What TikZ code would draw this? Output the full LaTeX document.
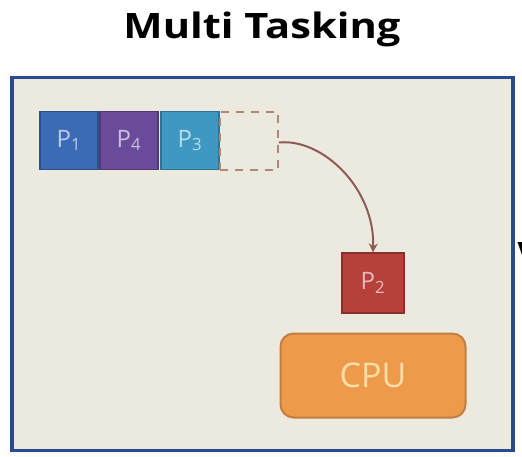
\documentclass[tikz,border=0pt]{standalone}
\usepackage{fontspec}
\setmainfont{Open Sans}
\usetikzlibrary{arrows.meta}
\definecolor{framebg}{HTML}{ECE9DF}
\definecolor{frameline}{HTML}{2A4A8E}
\definecolor{pone}{HTML}{3B6BB6}
\definecolor{pfour}{HTML}{6A4B9B}
\definecolor{pthree}{HTML}{3E98C1}
\definecolor{ptwo}{HTML}{B5413A}
\definecolor{cpufill}{HTML}{EE9A4B}
\definecolor{cpuline}{HTML}{C27E42}
\definecolor{cputext}{HTML}{F8DDA6}
\definecolor{slotline}{HTML}{B08676}
\definecolor{arrowcol}{HTML}{8C5C56}
\tikzset{
  pbox/.style={draw=#1!75!black, fill=#1, line width=1.2pt, minimum width=58pt,
    minimum height=58pt, inner sep=0pt, text=#1!35!white, font=\fontsize{24}{26}\selectfont},
  slotbox/.style={draw=slotline, dashed, dash pattern=on 8pt off 7pt, line width=2pt,
    minimum width=58pt, minimum height=58pt, inner sep=0pt},
  cpubox/.style={draw=cpuline, fill=cpufill, line width=2pt, rounded corners=13pt,
    minimum width=185pt, minimum height=84pt, inner sep=0pt, text=cputext,
    font=\fontsize{34}{36}\selectfont},
  flow/.style={draw=arrowcol, line width=2pt, -{Stealth[length=9pt,width=9pt]}},
}
\begin{document}
\begin{tikzpicture}[x=1pt,y=-1pt]
\useasboundingbox (0,0) rectangle (522,456);
\fill[white] (0,0) rectangle (522,456);
\node[font=\bfseries\fontsize{35}{40}\selectfont, anchor=base] (title) at (262,38) {\scalebox{1.19}[1]{Multi Tasking}};
\node[draw=frameline, fill=framebg, line width=3.5pt, minimum width=501pt, minimum height=373pt,
  inner sep=0pt] (frame) at (262.5,264) {};
\node[pbox=pone] (p1) at (69,140.5) {P\textsubscript{1}};
\node[pbox=pfour] (p4) at (129,140.5) {P\textsubscript{4}};
\node[pbox=pthree] (p3) at (190,140.5) {P\textsubscript{3}};
\node[slotbox] (slot) at (249,140.5) {};
\node[pbox=ptwo, minimum width=62pt, minimum height=60pt] (p2) at (373,283) {P\textsubscript{2}};
\node[cpubox] (cpu) at (373,375.5) {CPU};
\coordinate (start) at ([yshift=-2pt]slot.east);
\draw[flow] (start) .. controls (322,138) and (375,188) .. (p2.north);
\node[font=\bfseries\fontsize{35}{40}\selectfont, anchor=west] (v) at (514,255) {V};
\end{tikzpicture}
\end{document}
